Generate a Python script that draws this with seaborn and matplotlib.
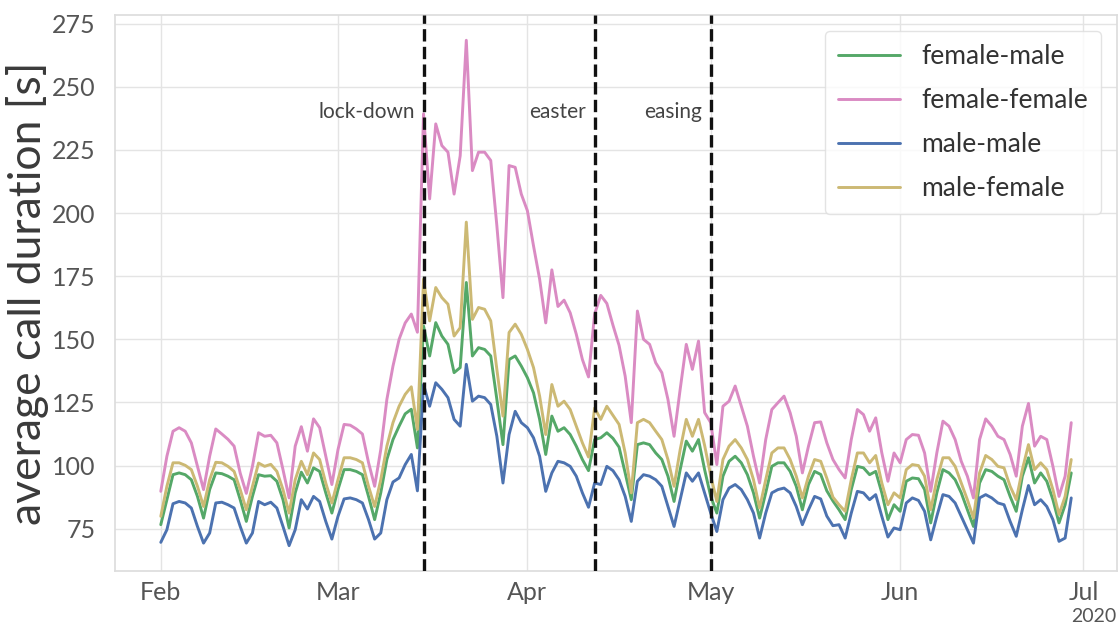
import pandas as pd
import seaborn as sns
import matplotlib.pyplot as plt
import matplotlib.dates as mdates

# daily averages, 1 Feb - 29 Jun 2020
dates = pd.date_range('2020-02-01', '2020-06-29', freq='D')

female_male = [
    76.6, 86.5, 96.4, 97.1, 96.4, 94.4, 87.8, 79.2, 90.5, 97.1,
    96.8, 95.8, 94.4, 86.5, 77.9, 87.8, 96.4, 95.8, 96.0, 93.8,
    86.5, 75.3, 89.2, 97.4, 93.1, 99.1, 97.7, 89.2, 81.2, 90.5,
    98.4, 98.4, 97.7, 96.4, 87.8, 78.6, 89.2, 102.4, 110.3, 115.6,
    120.5, 122.3, 107.0, 155.3, 143.4, 156.6, 151.3, 148.0, 136.8, 138.8,
    172.5, 143.4, 146.7, 146.0, 143.4, 126.2, 108.3, 142.0, 143.4, 139.4,
    134.8, 128.8, 118.3, 104.4, 119.6, 113.6, 115.0, 112.3, 107.7, 102.4,
    98.0, 110.3, 111.0, 113.0, 110.8, 107.3, 97.1, 86.5, 108.3, 109.0,
    108.3, 105.0, 102.4, 95.8, 85.8, 98.4, 109.7, 105.7, 110.3, 98.4,
    87.8, 81.2, 95.8, 101.7, 103.7, 101.1, 96.4, 89.2, 79.2, 89.2,
    99.7, 101.1, 101.1, 97.7, 91.8, 82.5, 92.5, 97.7, 96.5, 90.0,
    86.0, 82.5, 78.6, 90.5, 99.7, 99.1, 96.4, 97.7, 89.2, 78.6,
    84.5, 81.9, 93.8, 95.1, 94.8, 90.5, 77.3, 89.2, 98.4, 97.1,
    94.4, 89.2, 82.5, 75.9, 93.1, 98.4, 97.7, 95.8, 94.4, 87.8,
    81.9, 95.8, 103.1, 93.1, 97.1, 93.8, 86.5, 77.3, 84.5, 97.1,
]

female_female = [
    89.8, 103.7, 113.6, 115.0, 113.6, 109.0, 99.7, 90.5, 103.7, 114.5,
    112.5, 110.4, 107.7, 97.0, 89.0, 99.7, 113.0, 111.6, 112.0, 109.0,
    98.4, 87.2, 107.7, 115.4, 105.7, 118.5, 115.0, 103.7, 92.5, 106.3,
    116.3, 116.0, 114.5, 112.5, 101.2, 91.8, 106.3, 126.2, 139.4, 150.0,
    156.5, 160.0, 152.8, 239.3, 205.6, 235.3, 226.7, 224.1, 207.5, 222.7,
    268.4, 216.8, 224.1, 224.1, 220.8, 195.0, 166.5, 218.8, 218.1, 207.5,
    200.9, 187.0, 173.8, 156.5, 177.5, 163.0, 165.5, 160.5, 152.0, 142.0,
    135.1, 160.0, 167.4, 164.2, 155.6, 147.6, 135.4, 117.0, 161.2, 150.0,
    148.0, 140.7, 136.8, 126.2, 111.6, 130.2, 148.0, 138.1, 149.3, 121.0,
    117.0, 100.4, 123.5, 125.5, 131.5, 123.5, 115.6, 103.7, 93.1, 110.3,
    122.2, 124.9, 127.5, 120.9, 111.6, 97.1, 107.7, 117.0, 117.3, 109.0,
    102.4, 98.4, 95.1, 110.3, 122.2, 120.2, 113.6, 118.9, 105.0, 93.8,
    105.0, 101.1, 110.3, 112.3, 112.0, 105.0, 89.8, 105.0, 117.6, 115.6,
    110.3, 101.7, 95.8, 87.2, 110.3, 118.5, 115.6, 111.6, 110.3, 104.4,
    95.8, 115.6, 124.6, 107.7, 111.6, 110.3, 99.7, 87.8, 95.8, 117.0,
]

male_male = [
    69.6, 74.6, 84.9, 85.8, 85.2, 83.2, 75.9, 69.3, 73.3, 85.2,
    85.5, 84.5, 83.2, 75.9, 69.3, 73.3, 85.8, 84.5, 85.5, 83.2,
    75.9, 68.3, 74.6, 86.5, 82.8, 87.8, 85.8, 77.9, 70.9, 79.9,
    86.8, 87.2, 86.5, 85.2, 78.6, 70.9, 73.3, 86.5, 93.5, 95.1,
    100.4, 104.4, 90.0, 132.1, 123.5, 132.8, 130.2, 126.9, 118.3, 115.6,
    140.1, 125.5, 127.5, 126.9, 124.2, 111.6, 93.1, 112.3, 121.5, 117.0,
    115.0, 111.0, 103.7, 89.8, 97.1, 101.7, 101.1, 99.7, 95.8, 89.2,
    83.5, 93.1, 92.5, 99.7, 98.0, 94.4, 87.8, 77.9, 93.8, 96.4,
    95.8, 94.4, 91.8, 83.8, 75.9, 86.5, 97.1, 93.8, 97.1, 89.2,
    81.2, 73.9, 86.5, 91.1, 92.5, 90.5, 86.5, 81.2, 71.3, 81.2,
    89.2, 90.5, 91.1, 89.2, 83.8, 76.6, 82.5, 87.8, 86.8, 80.0,
    76.2, 76.6, 71.3, 81.2, 89.8, 89.2, 86.5, 88.5, 79.9, 71.7,
    75.3, 74.6, 85.2, 87.2, 86.2, 81.9, 70.6, 79.9, 88.5, 87.8,
    85.2, 79.9, 74.6, 69.3, 87.2, 88.5, 87.2, 85.2, 84.5, 77.9,
    72.0, 82.5, 92.1, 84.5, 86.5, 83.8, 78.6, 70.0, 71.3, 87.2,
]

male_female = [
    79.9, 91.8, 101.1, 101.1, 100.1, 98.4, 91.8, 83.8, 94.4, 101.3,
    101.1, 99.7, 97.7, 90.5, 82.5, 91.8, 101.0, 99.7, 100.5, 97.7,
    90.5, 81.2, 94.4, 101.7, 96.4, 105.0, 102.4, 93.1, 85.2, 94.4,
    103.1, 103.1, 102.4, 101.1, 91.8, 83.8, 94.4, 107.7, 117.0, 123.5,
    128.2, 131.2, 114.3, 173.8, 157.3, 170.5, 166.5, 163.9, 151.3, 154.6,
    196.4, 157.9, 162.6, 161.9, 157.3, 138.1, 119.6, 152.7, 156.0, 152.0,
    146.0, 138.8, 127.5, 112.3, 132.1, 123.5, 125.5, 122.2, 115.6, 109.0,
    103.4, 122.8, 118.3, 123.5, 119.9, 116.3, 105.0, 89.2, 117.0, 118.3,
    117.0, 113.6, 110.3, 102.4, 91.8, 106.3, 118.3, 111.6, 118.3, 108.0,
    96.0, 85.8, 102.4, 107.7, 110.3, 107.0, 102.4, 94.4, 83.2, 94.4,
    105.0, 107.0, 107.0, 102.4, 95.8, 87.2, 95.8, 102.4, 101.7, 95.0,
    87.5, 84.5, 81.9, 94.4, 105.0, 105.0, 101.1, 104.0, 93.1, 84.5,
    89.2, 87.2, 98.4, 100.4, 100.0, 95.8, 82.5, 94.4, 103.1, 103.1,
    99.7, 93.1, 86.5, 79.2, 97.1, 104.0, 102.4, 99.7, 99.1, 91.8,
    86.5, 98.4, 108.3, 98.4, 101.1, 98.4, 90.5, 80.6, 87.8, 102.4,
]

pairs = ['female-male', 'female-female', 'male-male', 'male-female']
colors = ['#55A868', '#DA8BC3', '#4C72B0', '#CCB974']

events = ['lock-down', 'easter', 'easing']
event_dates = ['2020-03-15', '2020-04-12', '2020-05-01']

df = pd.DataFrame({'date': dates, 'female-male': female_male, 'female-female': female_female,
                   'male-male': male_male, 'male-female': male_female})
long = df.melt(id_vars='date', var_name='pair', value_name='duration')

sns.set_theme(style='whitegrid', rc={'grid.color': '#e4e4e4', 'axes.edgecolor': '#dddddd'})
plt.rcParams['font.family'] = ['Lato', 'DejaVu Sans']

fig, ax = plt.subplots(figsize=(11.19, 6.26), dpi=100)
sns.lineplot(data=long, x='date', y='duration', hue='pair', hue_order=pairs,
             palette=dict(zip(pairs, colors)), linewidth=2.1, ax=ax)

for name, d in zip(events, event_dates):
    ax.axvline(pd.Timestamp(d), color='#111111', linestyle='--', linewidth=2.4, zorder=5)
    ax.annotate(name, xy=(pd.Timestamp(d), 240), xytext=(-6, 0), textcoords='offset points',
                ha='right', va='center', fontsize=15, color='#444444')

locator = mdates.MonthLocator()
ax.xaxis.set_major_locator(locator)
ax.xaxis.set_major_formatter(mdates.ConciseDateFormatter(locator))
ax.tick_params(axis='both', labelsize=18, labelcolor='#555555')
ax.tick_params(axis='x', pad=1)
ax.tick_params(axis='y', pad=8)
ax.xaxis.get_offset_text().set_fontsize(14)
ax.xaxis.get_offset_text().set_color('#555555')

ax.set_xlabel('')
ax.set_ylabel('average call duration [s]', fontsize=32, color='#3a3a3a', labelpad=2)
ax.set_yticks([75, 100, 125, 150, 175, 200, 225, 250, 275])

leg = ax.legend(loc='upper right', fontsize=19, handlelength=2.35, borderpad=0.5,
                labelspacing=0.72, handletextpad=0.8, borderaxespad=0.6)
leg.get_frame().set_edgecolor('#dddddd')
for t in leg.get_texts():
    t.set_color('#333333')

fig.subplots_adjust(left=0.103, right=0.998, top=0.976, bottom=0.088)
fig.savefig('out.png')
